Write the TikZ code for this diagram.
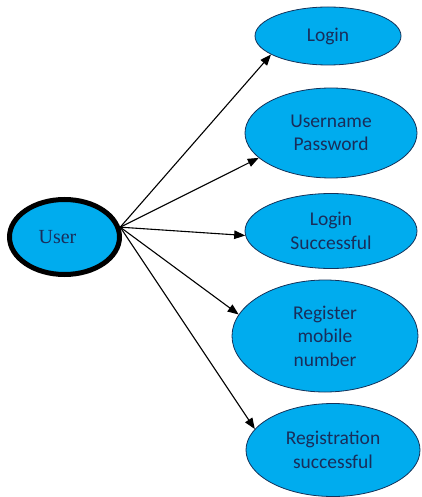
\documentclass[tikz,border=0pt]{standalone}
\usepackage{fontspec}
\setmainfont{Liberation Serif}
\newfontfamily\calfont{Carlito}
\usetikzlibrary{arrows.meta,shapes.geometric}
\definecolor{ucfill}{RGB}{0,172,238}
\definecolor{ucline}{RGB}{20,50,90}
\definecolor{uctext}{RGB}{25,45,90}
\begin{document}
\begin{tikzpicture}[x=1pt,y=-1pt,
  usecase/.style={ellipse,draw=ucline,line width=0.8pt,fill=ucfill,inner sep=0pt,
    text=uctext,align=center,font=\calfont\fontsize{19.5}{23.5}\selectfont},
  actor/.style={ellipse,draw=black,line width=5pt,fill=ucfill,inner sep=0pt,
    text=uctext,font=\fontsize{20}{24}\selectfont},
  conn/.style={line width=1.1pt,-{Triangle[length=11pt,width=8.5pt]}}]
\useasboundingbox (0,0) rectangle (422,497);
\node[actor,minimum width=110,minimum height=75] (user) at (64.5,237) {\hspace*{-14pt}User};
\node[usecase,minimum width=146,minimum height=58] (login) at (328,36) {Login};
\node[usecase,minimum width=172,minimum height=90] (cred) at (331,133) {Username\\Password};
\node[usecase,minimum width=172,minimum height=75] (ok) at (331,231) {Login\\Successful};
\node[usecase,minimum width=186,minimum height=112] (reg) at (325,336) {Register\\mobile\\number};
\node[usecase,minimum width=174,minimum height=93] (regok) at (333,450) {Registration\\successful};
\coordinate (src) at (user.10);
\draw[conn] (src) -- (login.198);
\draw[conn] (src) -- (cred.199);
\draw[conn] (src) -- (ok.183);
\draw[conn] (src) -- (reg.166);
\draw[conn] (src) -- (regok.165);
\end{tikzpicture}
\end{document}
